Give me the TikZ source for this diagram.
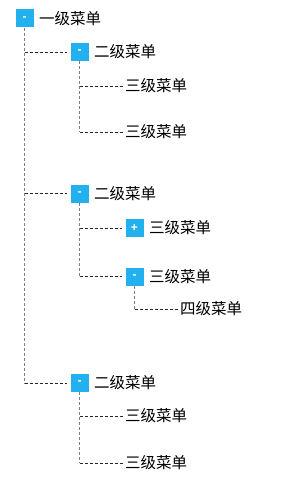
\documentclass[tikz,border=0pt]{standalone}
\usepackage{fontspec}
\newfontfamily\cjk{Noto Sans CJK SC}
\newfontfamily\signfont{Liberation Sans}
\usetikzlibrary{positioning}
\definecolor{menublue}{RGB}{34,177,238}
\tikzset{
  toggle/.style={fill=menublue,text=white,minimum size=18pt,inner sep=0pt,font=\signfont\bfseries\fontsize{12}{12}\selectfont},
  itemtext/.style={anchor=west,inner sep=2pt,font=\cjk\fontsize{15.5}{16}\selectfont},
  vline/.style={draw=gray,dash pattern=on 3pt off 2pt},
  hline/.style={draw=black!85,dash pattern=on 3pt off 2pt},
  tobox/.style={hline,shorten >=3pt}
}
\begin{document}
\begin{tikzpicture}[x=1pt,y=-1pt]
\useasboundingbox (0,0) rectangle (281,494);
\node[toggle] (b1) at (24.5,18.5) {-};
\node[itemtext] (t1) at (37,18.5) {一级菜单};
\node[toggle] (b2) at (79.5,52) {-};
\node[itemtext] (t2) at (92,52) {二级菜单};
\node[itemtext] (l1) at (123,86) {三级菜单};
\node[itemtext] (l2) at (123,132) {三级菜单};
\node[toggle] (b3) at (79.5,193.5) {-};
\node[itemtext] (t3) at (92,193.5) {二级菜单};
\node[toggle] (b4) at (134.5,228) {+};
\node[itemtext] (t4) at (147,228) {三级菜单};
\node[toggle] (b5) at (134.5,276.5) {-};
\node[itemtext] (t5) at (147,276.5) {三级菜单};
\node[itemtext] (l3) at (178,309) {四级菜单};
\node[toggle] (b6) at (79.5,383) {-};
\node[itemtext] (t6) at (92,383) {二级菜单};
\node[itemtext] (l4) at (123,416) {三级菜单};
\node[itemtext] (l5) at (123,463) {三级菜单};

\draw[vline] (b1.south) -- (b1.south |- b6.west);
\draw[tobox] (b1.south |- b2.west) -- (b2.west);
\draw[tobox] (b1.south |- b3.west) -- (b3.west);
\draw[tobox] (b1.south |- b6.west) -- (b6.west);

\draw[vline] (b2.south) -- (b2.south |- l2.west);
\draw[hline] (b2.south |- l1.west) -- (l1.west);
\draw[hline] (b2.south |- l2.west) -- (l2.west);

\draw[vline] (b3.south) -- (b3.south |- b5.west);
\draw[tobox] (b3.south |- b4.west) -- (b4.west);
\draw[tobox] (b3.south |- b5.west) -- (b5.west);

\draw[vline] (b5.south) -- (b5.south |- l3.west);
\draw[hline] (b5.south |- l3.west) -- (l3.west);

\draw[vline] (b6.south) -- (b6.south |- l5.west);
\draw[hline] (b6.south |- l4.west) -- (l4.west);
\draw[hline] (b6.south |- l5.west) -- (l5.west);
\end{tikzpicture}
\end{document}
